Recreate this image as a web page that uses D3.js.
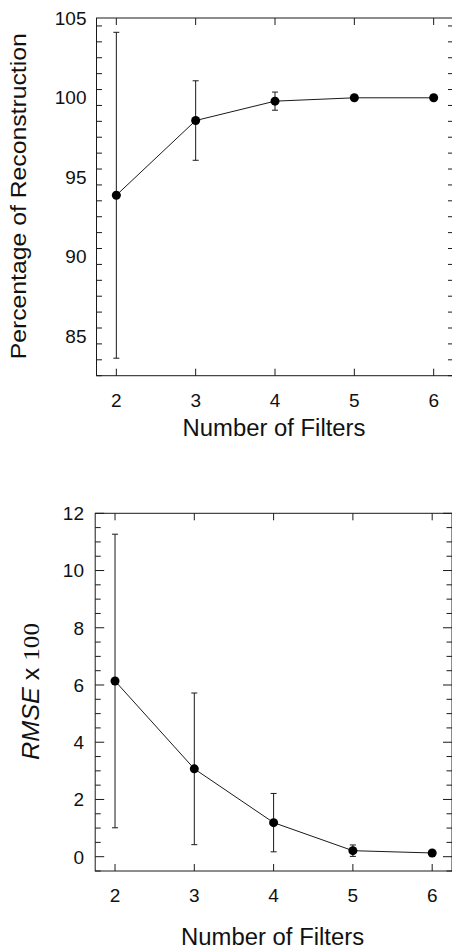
<!DOCTYPE html>
<html>
<head>
<meta charset="utf-8">
<script src="https://cdn.jsdelivr.net/npm/d3@7"></script>
<style>
  html, body { margin: 0; padding: 0; background: #fff; }
  svg { display: block; }
  text { font-family: "Liberation Sans", Arial, sans-serif; fill: #111; }
</style>
</head>
<body>
<svg id="chart" width="452" height="949"></svg>
<script>
const filters = [2, 3, 4, 5, 6];
const reconMean = [93.85, 98.55, 99.77, 99.98, 99.98];
const reconErr = [10.25, 2.5, 0.57, 0, 0];
const rmseMean = [6.14, 3.07, 1.19, 0.21, 0.13];
const rmseErr = [5.13, 2.65, 1.02, 0.2, 0.05];

const reconTicks = [85, 90, 95, 100, 105];
const rmseTicks = [0, 2, 4, 6, 8, 10, 12];

const svg = d3.select("#chart");
const ink = "#1a1a1a";

function drawPanel(opts) {
  const x = d3.scaleLinear().domain([1.75, 6.25]).range(opts.xRange);
  const y = d3.scaleLinear().domain(opts.yDomain).range(opts.yRange);
  const g = svg.append("g");
  const [x0, x1] = x.range();
  const [y0, y1] = y.range(); // y0 bottom, y1 top

  // frame
  g.append("rect")
    .attr("x", x0).attr("y", y1)
    .attr("width", x1 - x0).attr("height", y0 - y1)
    .attr("fill", "none").attr("stroke", ink).attr("stroke-width", 1);

  // x ticks, inward on bottom and top
  filters.forEach((f) => {
    g.append("line").attr("x1", x(f)).attr("x2", x(f))
      .attr("y1", y0).attr("y2", y0 - 7).attr("stroke", ink);
    g.append("line").attr("x1", x(f)).attr("x2", x(f))
      .attr("y1", y1).attr("y2", y1 + 7).attr("stroke", ink);
    g.append("text").attr("x", x(f)).attr("y", opts.tickBase)
      .attr("text-anchor", "middle").attr("font-size", 19).text(f);
  });

  // y ticks, major and minor, both sides
  d3.range(opts.yDomain[0], opts.yDomain[1] + 1e-9, opts.minorStep).forEach((v) => {
    const major = opts.majors.some((m) => Math.abs(m - v) < 1e-9);
    const len = major ? 9 : 5.5;
    g.append("line").attr("x1", x0).attr("x2", x0 + len)
      .attr("y1", y(v)).attr("y2", y(v)).attr("stroke", ink);
    g.append("line").attr("x1", x1).attr("x2", x1 - len)
      .attr("y1", y(v)).attr("y2", y(v)).attr("stroke", ink);
  });
  opts.majors.forEach((v) => {
    g.append("text").attr("x", opts.labelRight).attr("y", y(v))
      .attr("dy", "0.36em").attr("text-anchor", "end")
      .attr("font-size", 19).text(v);
  });

  // error bars
  filters.forEach((f, i) => {
    const e = opts.err[i];
    if (!e) return;
    const yTop = y(opts.mean[i] + e);
    const yBot = y(opts.mean[i] - e);
    g.append("line").attr("x1", x(f)).attr("x2", x(f))
      .attr("y1", yTop).attr("y2", yBot).attr("stroke", ink);
    [yTop, yBot].forEach((yy) => {
      g.append("line").attr("x1", x(f) - 3).attr("x2", x(f) + 3)
        .attr("y1", yy).attr("y2", yy).attr("stroke", ink);
    });
  });

  // line + markers
  const line = d3.line().x((d) => x(d[0])).y((d) => y(d[1]));
  g.append("path")
    .datum(filters.map((f, i) => [f, opts.mean[i]]))
    .attr("d", line).attr("fill", "none").attr("stroke", ink).attr("stroke-width", 1);
  g.selectAll("circle.pt")
    .data(filters.map((f, i) => [f, opts.mean[i]]))
    .join("circle")
    .attr("cx", (d) => x(d[0])).attr("cy", (d) => y(d[1]))
    .attr("r", 4.5).attr("fill", "#000");

  // x title
  g.append("text").attr("x", (x0 + x1) / 2 - 1).attr("y", opts.titleBase)
    .attr("text-anchor", "middle").attr("font-size", 23)
    .attr("textLength", 183).attr("lengthAdjust", "spacingAndGlyphs")
    .text("Number of Filters");

  return { x, y, g };
}

const reconPanel = drawPanel({
  xRange: [96.5, 453.5],
  yDomain: [82.5, 105],
  yRange: [375.7, 18],
  minorStep: 1,
  majors: reconTicks,
  mean: reconMean,
  err: reconErr,
  labelRight: 86.5,
  tickBase: 406.5,
  titleBase: 436,
});

reconPanel.g.append("text")
  .attr("transform", "translate(25.5,196.3) rotate(-90)")
  .attr("text-anchor", "middle").attr("font-size", 22)
  .attr("textLength", 326).attr("lengthAdjust", "spacingAndGlyphs")
  .text("Percentage of Reconstruction");

const rmsePanel = drawPanel({
  xRange: [95.2, 452],
  yDomain: [-0.5, 12],
  yRange: [871, 513.3],
  minorStep: 0.5,
  majors: rmseTicks,
  mean: rmseMean,
  err: rmseErr,
  labelRight: 84,
  tickBase: 901.5,
  titleBase: 945,
});

const rl = rmsePanel.g.append("text")
  .attr("transform", "translate(38.5,691.5) rotate(-90)")
  .attr("text-anchor", "middle").attr("font-size", 23)
  .attr("textLength", 137).attr("lengthAdjust", "spacingAndGlyphs");
rl.append("tspan").attr("font-style", "italic").text("RMSE");
rl.append("tspan").text(" x ");
rl.append("tspan").attr("font-family", "'Liberation Serif', 'Times New Roman', serif").text("100");
</script>
</body>
</html>
